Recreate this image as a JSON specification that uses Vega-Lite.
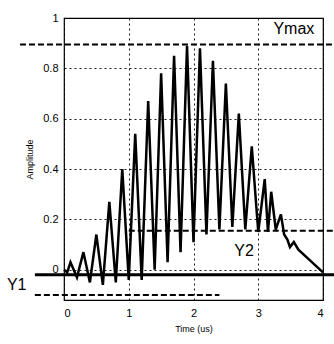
{
  "$schema": "https://vega.github.io/schema/vega-lite/v6.json",
  "width": 259,
  "height": 282,
  "autosize": {"type": "none"},
  "padding": {"left": 64, "top": 18, "right": 11, "bottom": 44},
  "background": "white",
  "config": {
    "view": {"stroke": "black", "strokeWidth": 1.2},
    "font": "Liberation Sans",
    "axis": {
      "labelFont": "Liberation Sans",
      "titleFont": "Liberation Sans",
      "labelColor": "black",
      "titleColor": "black",
      "labelFontSize": 11,
      "titleFontSize": 9,
      "titleFontWeight": "normal",
      "domain": false,
      "ticks": false,
      "gridColor": "black",
      "gridDash": [2, 3],
      "gridOpacity": 0.9,
      "gridWidth": 1
    }
  },
  "datasets": {
    "signal": [
      {"t": 0.00, "a": 0.00}, {"t": 0.05, "a": -0.01}, {"t": 0.10, "a": 0.03}, {"t": 0.20, "a": -0.03},
      {"t": 0.30, "a": 0.07}, {"t": 0.40, "a": -0.05}, {"t": 0.50, "a": 0.14}, {"t": 0.60, "a": -0.06},
      {"t": 0.70, "a": 0.27}, {"t": 0.80, "a": -0.05}, {"t": 0.90, "a": 0.40}, {"t": 1.00, "a": -0.04},
      {"t": 1.10, "a": 0.54}, {"t": 1.20, "a": -0.04}, {"t": 1.30, "a": 0.67}, {"t": 1.40, "a": 0.00},
      {"t": 1.50, "a": 0.78}, {"t": 1.60, "a": 0.03}, {"t": 1.70, "a": 0.85}, {"t": 1.80, "a": 0.07},
      {"t": 1.90, "a": 0.89}, {"t": 2.00, "a": 0.11}, {"t": 2.10, "a": 0.88}, {"t": 2.20, "a": 0.14},
      {"t": 2.30, "a": 0.83}, {"t": 2.40, "a": 0.16}, {"t": 2.50, "a": 0.74}, {"t": 2.60, "a": 0.17},
      {"t": 2.70, "a": 0.62}, {"t": 2.80, "a": 0.16}, {"t": 2.90, "a": 0.49}, {"t": 3.00, "a": 0.15},
      {"t": 3.10, "a": 0.36}, {"t": 3.15, "a": 0.15}, {"t": 3.20, "a": 0.31}, {"t": 3.27, "a": 0.16},
      {"t": 3.35, "a": 0.22}, {"t": 3.40, "a": 0.14}, {"t": 3.45, "a": 0.12}, {"t": 3.49, "a": 0.09},
      {"t": 3.55, "a": 0.11}, {"t": 3.62, "a": 0.08}, {"t": 4.00, "a": -0.01}
    ],
    "rules": [
      {"name": "Ymax", "x1": -0.68, "x2": 4.17, "y": 0.895, "w": 2, "dash": "dash"},
      {"name": "Y2", "x1": 1.0, "x2": 4.17, "y": 0.155, "w": 2, "dash": "dash"},
      {"name": "Y1", "x1": -0.45, "x2": 2.4, "y": -0.1, "w": 2, "dash": "dash"},
      {"name": "base", "x1": -0.45, "x2": 4.17, "y": -0.02, "w": 3, "dash": "solid"}
    ],
    "labels": [
      {"label": "Ymax", "t": 3.55, "a": 0.955},
      {"label": "Y2", "t": 2.78, "a": 0.075},
      {"label": "Y1", "t": -0.73, "a": -0.06}
    ]
  },
  "layer": [
    {
      "data": {"name": "rules"},
      "mark": {"type": "rule", "color": "black", "clip": false},
      "encoding": {
        "x": {"field": "x1", "type": "quantitative", "scale": {"domain": [0, 4], "nice": false}},
        "x2": {"field": "x2"},
        "y": {"field": "y", "type": "quantitative", "scale": {"domain": [-0.12, 1.0], "nice": false}},
        "strokeWidth": {"field": "w", "type": "quantitative", "scale": null, "legend": null},
        "strokeDash": {"field": "dash", "type": "nominal", "scale": {"domain": ["dash", "solid"], "range": [[6, 3], [1, 0]]}, "legend": null}
      }
    },
    {
      "data": {"name": "signal"},
      "mark": {"type": "line", "color": "black", "strokeWidth": 2.5, "clip": false},
      "encoding": {
        "x": {
          "field": "t", "type": "quantitative",
          "scale": {"domain": [0, 4], "nice": false},
          "axis": {"values": [0, 1, 2, 3, 4], "format": "~g", "title": "Time (us)", "labelPadding": 7, "titlePadding": 6, "grid": true}
        },
        "y": {
          "field": "a", "type": "quantitative",
          "scale": {"domain": [-0.12, 1.0], "nice": false},
          "axis": {"values": [0, 0.2, 0.4, 0.6, 0.8, 1], "format": "~g", "title": "Amplitude", "labelPadding": 6, "titlePadding": 8, "grid": true}
        }
      }
    },
    {
      "data": {"name": "labels"},
      "mark": {"type": "text", "color": "black", "fontSize": 16, "font": "Liberation Sans", "clip": false},
      "encoding": {
        "x": {"field": "t", "type": "quantitative"},
        "y": {"field": "a", "type": "quantitative"},
        "text": {"field": "label"}
      }
    }
  ]
}
